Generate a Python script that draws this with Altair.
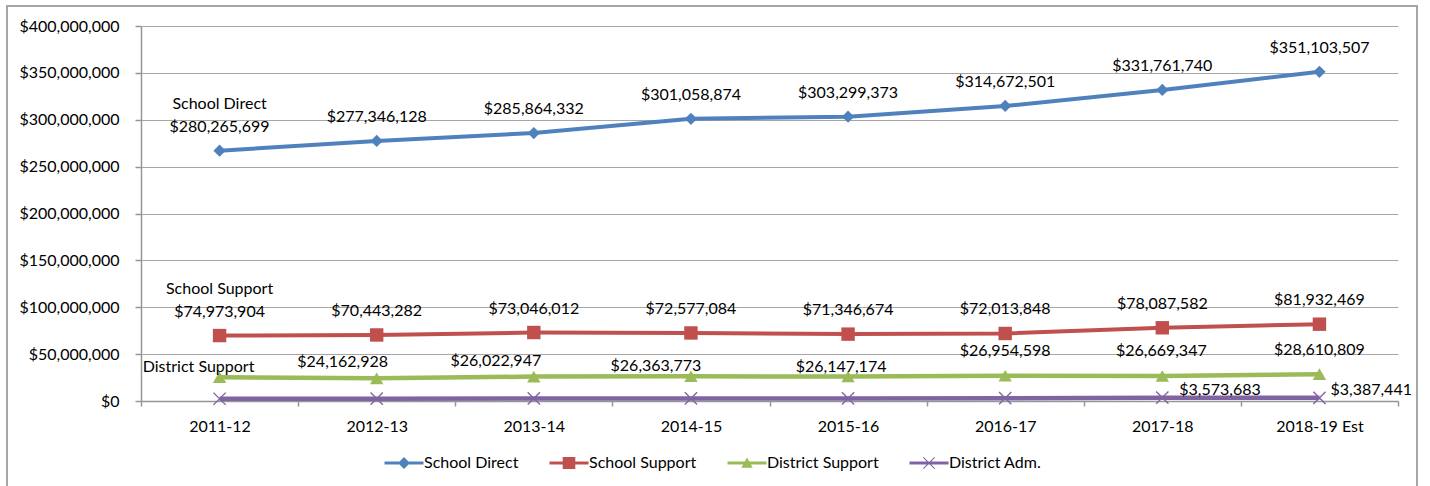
import altair as alt
import pandas as pd

# ---------------- data ----------------
YEARS = ["2011-12", "2012-13", "2013-14", "2014-15", "2015-16", "2016-17", "2017-18", "2018-19 Est"]
SERIES = ["School Direct", "School Support", "District Support", "District Adm."]

SCHOOL_DIRECT = [267000000, 277346128, 285864332, 301058874, 303299373, 314672501, 331761740, 351103507]
SCHOOL_SUPPORT = [69800000, 70443282, 73046012, 72577084, 71346674, 72013848, 78087582, 81932469]
DISTRICT_SUPPORT = [25300000, 24162928, 26022947, 26363773, 26147174, 26954598, 26669347, 28610809]
DISTRICT_ADM = [2400000, 2500000, 2700000, 2800000, 2800000, 3000000, 3573683, 3387441]

SD_LABELS = ["$280,265,699", "$277,346,128", "$285,864,332", "$301,058,874", "$303,299,373",
             "$314,672,501", "$331,761,740", "$351,103,507"]
SS_LABELS = ["$74,973,904", "$70,443,282", "$73,046,012", "$72,577,084", "$71,346,674",
             "$72,013,848", "$78,087,582", "$81,932,469"]
DS_LABELS = ["", "$24,162,928", "$26,022,947", "$26,363,773", "$26,147,174",
             "$26,954,598", "$26,669,347", "$28,610,809"]
DA_LABELS = ["", "", "", "", "", "", "$3,573,683", "$3,387,441"]

COLORS = ["#4F81BD", "#C0504D", "#9BBB59", "#8064A2"]
Y_TICKS = [0, 50000000, 100000000, 150000000, 200000000, 250000000, 300000000, 350000000, 400000000]

# ---------------- styling ----------------
FONT = "Lato"
FS = 16
GRID = "#A6A6A6"
AXIS = "#969696"

# label placement offsets (pixels, relative to the point)
DS_DX = [0, -34, -38, -35, -7, 0, -1, 0]
DS_DY = [0, -16, -16, -10, -9, -25, -25, -24]

# legend symbols: line + marker (units of half the symbol size)
LINE = "M-3.25,-0.25H3.25V0.25H-3.25Z "
LEGEND_PATHS = [
    LINE + "M0,-1L1,0L0,1L-1,0Z",
    LINE + "M-1.05,-1H1.05V1H-1.05Z",
    LINE + "M0,-0.9L0.95,0.8H-0.95Z",
    LINE + "M-1,-0.88L-0.88,-1L1,0.88L0.88,1Z M0.88,-1L1,-0.88L-0.88,1L-1,0.88Z",
]

rows = []
for s, vals in zip(SERIES, [SCHOOL_DIRECT, SCHOOL_SUPPORT, DISTRICT_SUPPORT, DISTRICT_ADM]):
    for y, v in zip(YEARS, vals):
        rows.append({"series": s, "year": y, "value": v})
df = pd.DataFrame(rows)

X = alt.X(
    "year:N",
    sort=YEARS,
    scale=alt.Scale(type="band", domain=YEARS, paddingInner=0, paddingOuter=0),
    axis=alt.Axis(
        title=None, labelAngle=0, tickBand="extent", tickSize=5, grid=False,
        domainColor=AXIS, domainWidth=1.5, tickColor=AXIS, tickWidth=1.5,
        labelFont=FONT, labelFontSize=FS, labelColor="#000000", labelPadding=12,
    ),
)
Y = alt.Y(
    "value:Q",
    scale=alt.Scale(domain=[0, 400000000], nice=False, zero=True),
    axis=alt.Axis(
        title=None, values=Y_TICKS, format="$,.0f", tickSize=6, labelPadding=16,
        grid=True, gridColor=GRID, gridWidth=1.2,
        domainColor=AXIS, domainWidth=1.5, tickColor=AXIS, tickWidth=1.5,
        labelFont=FONT, labelFontSize=FS, labelColor="#000000",
    ),
)

base = alt.Chart(df)

frame = alt.Chart(alt.Data(values=[{"f": 1}])).mark_rect(
    fillOpacity=0, stroke="#A6A6A6", strokeWidth=2
).encode(x=alt.value(-134), x2=alt.value(1276), y=alt.value(-20), y2=alt.value(480))

line_widths = [4, 4, 4.5, 4.5]
line_layers = []
for s, c, w in zip(SERIES, COLORS, line_widths):
    line_layers.append(
        base.transform_filter(alt.datum.series == s).mark_line(strokeWidth=w, color=c).encode(x=X, y=Y)
    )

shape_specs = [("diamond", 150, True), ("square", 180, True), ("triangle-up", 180, True),
               ("M-1,-1L1,1M-1,1L1,-1", 150, False)]
point_layers = []
for s, c, (shp, sz, filled) in zip(SERIES, COLORS, shape_specs):
    kw = dict(shape=shp, size=sz, filled=filled, opacity=1, color=c)
    if not filled:
        kw["strokeWidth"] = 1.4
    point_layers.append(
        base.transform_filter(alt.datum.series == s).mark_point(**kw).encode(x=X, y=Y)
    )

leg = alt.Legend(
    title=None, orient="none", legendX=255, legendY=429, direction="horizontal",
    symbolSize=144, symbolOpacity=1, symbolStrokeWidth=0, labelFont=FONT, labelFontSize=FS,
    labelColor="#000000", labelOffset=12, columnPadding=30, padding=0, labelLimit=400,
)
legend_layer = base.mark_point(filled=True, opacity=0, size=144).encode(
    x=X, y=Y,
    color=alt.Color("series:N", scale=alt.Scale(domain=SERIES, range=COLORS), legend=leg),
    shape=alt.Shape("series:N", scale=alt.Scale(domain=SERIES, range=LEGEND_PATHS), legend=leg),
)


def label(year, value, text, dx=0, dy=-24, align="center"):
    d = pd.DataFrame({"year": [year], "value": [value], "text": [text]})
    return alt.Chart(d).mark_text(
        dx=dx, dy=dy, align=align, baseline="middle", font=FONT, fontSize=FS, color="#000000"
    ).encode(x=X, y=Y, text="text:N")


texts = []
for i, yr in enumerate(YEARS):
    texts.append(label(yr, SCHOOL_DIRECT[i], SD_LABELS[i], dy=-24))
    texts.append(label(yr, SCHOOL_SUPPORT[i], SS_LABELS[i], dy=-24))
    if DS_LABELS[i]:
        texts.append(label(yr, DISTRICT_SUPPORT[i], DS_LABELS[i], dx=DS_DX[i], dy=DS_DY[i]))
texts.append(label(YEARS[6], DISTRICT_ADM[6], DA_LABELS[6], dx=17, dy=-8, align="left"))
texts.append(label(YEARS[7], DISTRICT_ADM[7], DA_LABELS[7], dx=11, dy=-8, align="left"))
texts.append(label(YEARS[0], SCHOOL_DIRECT[0], SERIES[0], dy=-47))
texts.append(label(YEARS[0], SCHOOL_SUPPORT[0], SERIES[1], dy=-47))
texts.append(label(YEARS[0], DISTRICT_SUPPORT[0], SERIES[2], dx=-21, dy=-10))

chart = alt.layer(frame, *line_layers, *point_layers, legend_layer, *texts).properties(
    width=1257,
    height=375,
    autosize=alt.AutoSizeParams(type="none"),
    padding={"left": 141, "top": 26, "right": 32, "bottom": 85},
    background="#FFFFFF",
).configure_view(strokeWidth=0)

chart.save("out.html", embed_options={"renderer": "svg", "actions": False})
